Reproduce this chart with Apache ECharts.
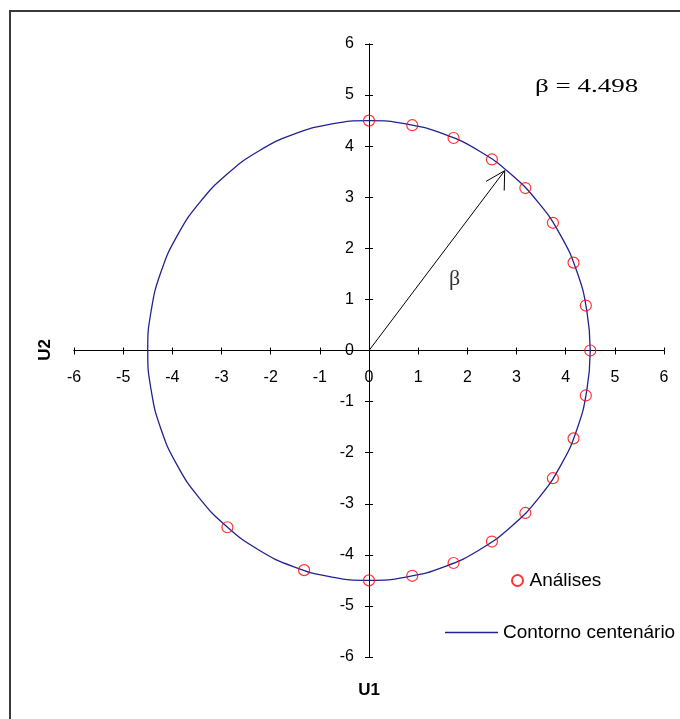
<!DOCTYPE html>
<html>
<head>
<meta charset="utf-8">
<script src="https://cdn.jsdelivr.net/npm/echarts@6/dist/echarts.min.js"></script>
<style>
  html, body { margin: 0; padding: 0; background: #fff; }
  #chart { width: 680px; height: 719px; }
</style>
</head>
<body>
<div id="chart"></div>
<script>
// Reliability index and axis ticks
const beta = 4.498;
const axisTicks = [-6, -5, -4, -3, -2, -1, 0, 1, 2, 3, 4, 5, 6];

// Analysed points (U1, U2)
const analises = [
  [0.00, 4.50], [0.88, 4.41], [1.72, 4.16], [2.50, 3.74], [3.18, 3.18],
  [3.74, 2.50], [4.16, 1.72], [4.41, 0.88], [4.50, 0.00], [4.41, -0.88],
  [4.16, -1.72], [3.74, -2.50], [3.18, -3.18], [2.50, -3.74], [1.72, -4.16],
  [0.88, -4.41], [0.00, -4.50], [-1.32, -4.30], [-2.88, -3.46]
];

// Centenary contour (U1, U2)
const contorno = [
  [4.50, 0.00], [4.43, 0.78], [4.23, 1.54], [3.90, 2.25], [3.45, 2.89],
  [2.89, 3.45], [2.25, 3.90], [1.54, 4.23], [0.78, 4.43], [0.00, 4.50],
  [-0.78, 4.43], [-1.54, 4.23], [-2.25, 3.90], [-2.89, 3.45], [-3.45, 2.89],
  [-3.90, 2.25], [-4.23, 1.54], [-4.43, 0.78], [-4.50, 0.00], [-4.43, -0.78],
  [-4.23, -1.54], [-3.90, -2.25], [-3.45, -2.89], [-2.89, -3.45], [-2.25, -3.90],
  [-1.54, -4.23], [-0.78, -4.43], [0.00, -4.50], [0.78, -4.43], [1.54, -4.23],
  [2.25, -3.90], [2.89, -3.45], [3.45, -2.89], [3.90, -2.25], [4.23, -1.54],
  [4.43, -0.78], [4.50, 0.00]
];

// Beta vector and its open arrowhead
const betaVector = [[0, 0], [2.76, 3.52]];
const arrowHead = [[2.38, 3.31], [2.76, 3.52], [2.75, 3.13]];
const betaLabelPos = [[1.74, 1.39]];

const chart = echarts.init(document.getElementById('chart'), null, { renderer: 'canvas' });

const axisMin = axisTicks[0];
const axisMax = axisTicks[axisTicks.length - 1];
const sansFont = '"Liberation Sans", Arial, sans-serif';
const serifFont = '"Liberation Serif", "Times New Roman", serif';

// Plot area and the axes crossing at the origin
const grid = { left: 74, right: 16, top: 44, bottom: 62 };
const plotW = chart.getWidth() - grid.left - grid.right;
const plotH = chart.getHeight() - grid.top - grid.bottom;
const zeroFrac = (0 - axisMin) / (axisMax - axisMin);
const xAxisShift = -plotH * zeroFrac;         // from the bottom (or top) edge to U2 = 0
const yAxisShift = -plotW * zeroFrac;         // from the left (or right) edge to U1 = 0

function baseAxis(extra) {
  return Object.assign({
    type: 'value',
    min: axisMin,
    max: axisMax,
    interval: 1,
    splitLine: { show: false },
    axisLine: { show: true, onZero: false, lineStyle: { color: '#000', width: 1 } },
    axisTick: { show: true, length: 4, lineStyle: { color: '#000', width: 1 } }
  }, extra);
}

const option = {
  backgroundColor: '#fff',
  animation: false,
  grid: Object.assign({ containLabel: false }, grid),
  xAxis: [
    baseAxis({
      position: 'bottom',
      offset: xAxisShift,
      axisLabel: { margin: 19, color: '#000', fontSize: 16, fontFamily: sansFont }
    }),
    baseAxis({
      position: 'top',
      offset: xAxisShift,
      axisTick: { show: true, length: 3, lineStyle: { color: '#000', width: 1 } },
      axisLabel: { show: false }
    })
  ],
  yAxis: [
    baseAxis({
      position: 'left',
      offset: yAxisShift,
      axisLabel: { margin: 15, color: '#000', fontSize: 16, fontFamily: sansFont }
    }),
    baseAxis({
      position: 'right',
      offset: yAxisShift,
      axisTick: { show: true, length: 4, lineStyle: { color: '#000', width: 1 } },
      axisLabel: { show: false }
    })
  ],
  legend: [
    {
      data: ['Análises'],
      left: 511, top: 571, padding: 0,
      itemWidth: 14, itemHeight: 11,
      textStyle: { color: '#000', fontSize: 19, fontFamily: sansFont },
      selectedMode: false
    },
    {
      data: [{ name: 'Contorno centenário', icon: 'rect' }],
      left: 445, top: 623, padding: 0,
      itemWidth: 53, itemHeight: 1.5,
      textStyle: { color: '#000', fontSize: 19, fontFamily: sansFont },
      selectedMode: false
    }
  ],
  series: [
    {
      name: 'Contorno centenário',
      type: 'line',
      data: contorno,
      symbol: 'none',
      smooth: true,
      lineStyle: { color: '#22228f', width: 1.3 },
      itemStyle: { color: '#22228f' },
      z: 2
    },
    {
      name: 'vetor',
      type: 'line',
      data: betaVector,
      symbol: 'none',
      lineStyle: { color: '#000', width: 1 },
      z: 3
    },
    {
      name: 'seta',
      type: 'line',
      data: arrowHead,
      symbol: 'none',
      lineStyle: { color: '#000', width: 1 },
      z: 3
    },
    {
      name: 'rotulo',
      type: 'scatter',
      data: betaLabelPos,
      symbolSize: 0,
      label: {
        show: true,
        position: 'inside',
        formatter: 'β',
        color: '#000',
        fontSize: 22,
        fontFamily: serifFont
      },
      silent: true,
      z: 4
    },
    {
      name: 'Análises',
      type: 'scatter',
      data: analises,
      symbol: 'circle',
      symbolSize: 11,
      itemStyle: { color: 'rgba(255,255,255,0)', borderColor: '#ff0000', borderWidth: 1.2 },
      z: 5
    }
  ],
  graphic: [
    {
      type: 'rect',
      shape: { x: 10, y: 11, width: 720, height: 760 },
      style: { fill: 'none', stroke: '#3a3a3a', lineWidth: 2 },
      silent: true,
      z: 0
    },
    {
      type: 'text',
      x: 535, y: 78,
      scaleX: 1.42,
      style: {
        text: 'β = ' + beta.toFixed(3),
        fill: '#000',
        font: '19px ' + serifFont
      },
      z: 10
    },
    {
      type: 'text',
      x: 369, y: 690,
      style: {
        text: 'U1', fill: '#000', font: 'bold 17px ' + sansFont,
        align: 'center', verticalAlign: 'middle'
      },
      z: 10
    },
    {
      type: 'text',
      x: 45, y: 350,
      rotation: Math.PI / 2,
      style: {
        text: 'U2', fill: '#000', font: 'bold 17px ' + sansFont,
        align: 'center', verticalAlign: 'middle'
      },
      z: 10
    }
  ]
};

chart.setOption(option);
</script>
</body>
</html>
